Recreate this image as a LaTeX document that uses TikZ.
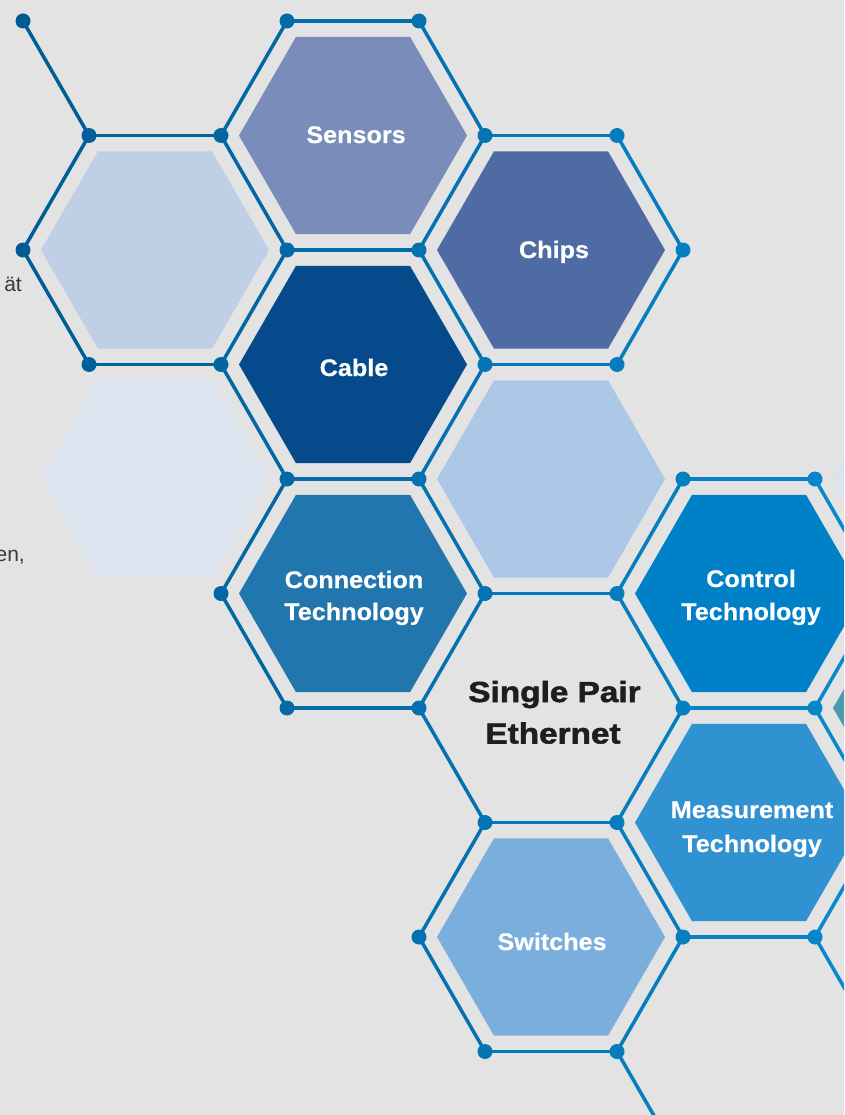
\documentclass[tikz,border=0pt]{standalone}
\usepackage{fontspec}
\setmainfont{Liberation Sans}
\newfontfamily\lblfont{Liberation Sans}[FakeStretch=1.05,FakeBold=0.4]
\newfontfamily\spefont{Liberation Sans}[FakeStretch=1.15,FakeBold=1.8]
\definecolor{bg}{HTML}{E3E3E3}
\definecolor{linedark}{HTML}{005A94}
\definecolor{linelight}{HTML}{0888CB}
\definecolor{cutgray}{HTML}{3A3A3A}
\definecolor{spetext}{HTML}{1E1E1E}
\definecolor{hL1}{HTML}{BFCFE5}
\definecolor{hL2}{HTML}{DDE5F0}
\definecolor{hSens}{HTML}{7A8CBA}
\definecolor{hCable}{HTML}{054A8A}
\definecolor{hConn}{HTML}{2176AD}
\definecolor{hChips}{HTML}{4E6CA3}
\definecolor{hLight}{HTML}{ADC8E7}
\definecolor{hSwitch}{HTML}{7AAEDC}
\definecolor{hCtrl}{HTML}{0080C7}
\definecolor{hMeas}{HTML}{3192D1}
\definecolor{hPale}{HTML}{D8E4EE}
\definecolor{hTeal}{HTML}{4B9BB0}
\newcommand\colx[1]{\ifcase#1 23\or 89\or 221\or 287\or 419\or 485\or 617\or 683\or 815\or 881\fi}
\newcommand\hexat[4]{%
  \coordinate (#1) at (#2,#3);
  \fill[#4] (#1) +(0:114pt) -- +(60:114pt) -- +(120:114pt) -- +(180:114pt) -- +(240:114pt) -- +(300:114pt) -- cycle;}
\newcommand\seg[4]{%
  \edef\xa{\colx{#1}}\edef\xb{\colx{#3}}%
  \pgfmathtruncatemacro\pmix{(\xa+\xb)/2/8.44}%
  \draw[edgeln, draw=linelight!\pmix!linedark] (v#1-#2) -- (v#3-#4);}
\newcommand\dotat[2]{%
  \edef\xa{\colx{#1}}%
  \pgfmathtruncatemacro\pmix{\xa/8.44}%
  \fill[linelight!\pmix!linedark] (v#1-#2) circle (7.5pt);}
\tikzset{
  hexlbl/.style={text=white, font=\lblfont\bfseries\fontsize{24}{28}\selectfont, anchor=base, inner sep=0pt},
  spelbl/.style={text=spetext, font=\spefont\bfseries\fontsize{29}{34}\selectfont, anchor=base, inner sep=0pt},
  edgeln/.style={line width=3.5pt},
  cuttext/.style={text=cutgray, font=\fontsize{21}{25}\selectfont, anchor=base east, inner sep=0pt},
}
\begin{document}
\begin{tikzpicture}[x=1pt,y=-1pt]
\fill[bg] (0,0) rectangle (844,1115);
\useasboundingbox (0,0) rectangle (844,1115);
\clip (0,0) rectangle (844,1115);
% vertex grid
\foreach \c in {0,...,9}{
  \foreach \k in {0,...,10}{
    \edef\xx{\colx{\c}}
    \coordinate (v\c-\k) at (\xx, 21+114.5*\k);
  }
}
% filled hexagons
\hexat{hL1}{155}{250}{hL1}
\hexat{hL2}{155}{479}{hL2}
\hexat{hSens}{353}{135.5}{hSens}
\hexat{hCable}{353}{364.5}{hCable}
\hexat{hConn}{353}{593.5}{hConn}
\hexat{hChips}{551}{250}{hChips}
\hexat{hLight}{551}{479}{hLight}
\hexat{hSwitch}{551}{937}{hSwitch}
\hexat{hCtrl}{749}{593.5}{hCtrl}
\hexat{hMeas}{749}{822.5}{hMeas}
\hexat{hPale}{947}{479}{hPale}
\hexat{hTeal}{947}{708}{hTeal}
% edges
\seg0011 \seg1121 \seg2130 \seg3040 \seg4051 \seg5161
\seg2132 \seg5142 \seg6172 \seg0211 \seg3242 \seg7263
\seg4253 \seg3223 \seg0213 \seg1323 \seg5363 \seg2334
\seg5344 \seg3444 \seg7484 \seg3425 \seg4455 \seg7465
\seg8495 \seg5565 \seg2536 \seg5546 \seg6576 \seg3646
\seg7686 \seg4657 \seg7667 \seg8695 \seg8697 \seg5767
\seg5748 \seg6778 \seg7888 \seg4859 \seg7869 \seg8897
\seg8899 \seg5969 \seg69{7}{10}
% vertex dots
\dotat00 \dotat30 \dotat40
\dotat11 \dotat21 \dotat51 \dotat61
\dotat02 \dotat32 \dotat42 \dotat72
\dotat13 \dotat23 \dotat53 \dotat63
\dotat34 \dotat44 \dotat74 \dotat84
\dotat25 \dotat55 \dotat65
\dotat36 \dotat46 \dotat76 \dotat86
\dotat57 \dotat67
\dotat48 \dotat78 \dotat88
\dotat59 \dotat69
% labels
\node[hexlbl] (lSens) at (356,143) {Sensors};
\node[hexlbl] (lChips) at (554,258) {Chips};
\node[hexlbl] (lCable) at (354,376) {Cable};
\node[hexlbl] (lConnA) at (354,588) {Connection};
\node[hexlbl] (lConnB) at (354,620) {Technology};
\node[hexlbl] (lCtrlA) at (751,587) {Control};
\node[hexlbl] (lCtrlB) at (751,620) {Technology};
\node[hexlbl] (lMeasA) at (752,818) {Measurement};
\node[hexlbl] (lMeasB) at (752,852) {Technology};
\node[hexlbl] (lSwitch) at (552,950) {Switches};
\node[spelbl] (lSpeA) at (554.5,702) {Single Pair};
\node[spelbl] (lSpeB) at (553,743.5) {Ethernet};
% cut-off page text
\node[cuttext] (cutA) at (22,291) {ät};
\node[cuttext] (cutB) at (25,561) {en,};
\end{tikzpicture}
\end{document}
